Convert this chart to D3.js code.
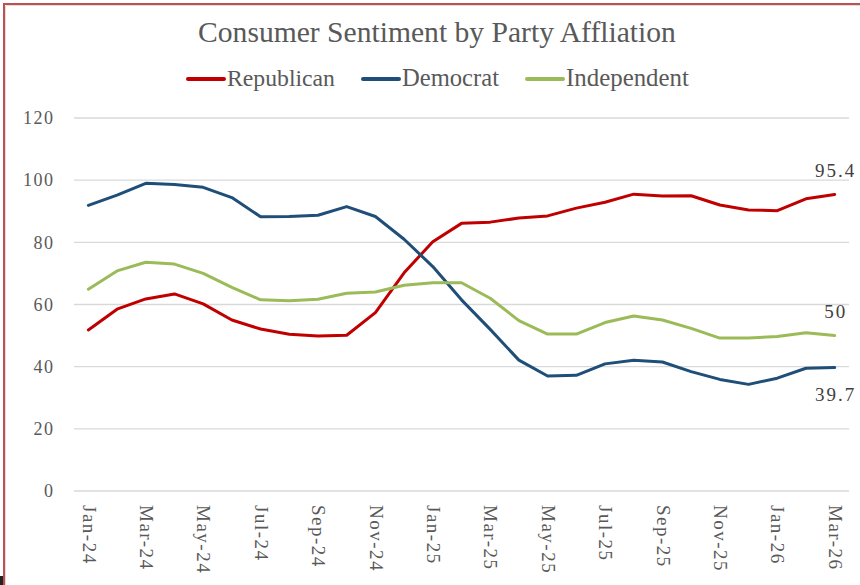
<!DOCTYPE html>
<html>
<head>
<meta charset="utf-8">
<script src="https://cdn.jsdelivr.net/npm/d3@7/dist/d3.min.js"></script>
<style>
  html, body { margin: 0; padding: 0; background: #fff; }
  svg { display: block; }
  text { font-family: "Liberation Serif", "DejaVu Serif", serif; }
</style>
</head>
<body>
<svg id="chart" width="860" height="585"></svg>
<script>
const months = ["Jan-24","Feb-24","Mar-24","Apr-24","May-24","Jun-24","Jul-24","Aug-24","Sep-24","Oct-24","Nov-24","Dec-24",
  "Jan-25","Feb-25","Mar-25","Apr-25","May-25","Jun-25","Jul-25","Aug-25","Sep-25","Oct-25","Nov-25","Dec-25",
  "Jan-26","Feb-26","Mar-26"];
const republican = [51.8,58.5,61.8,63.4,60.2,55.0,52.1,50.4,49.9,50.1,57.4,70.2,80.2,86.1,86.5,87.8,88.5,91.0,92.9,95.5,94.9,95.0,92.0,90.4,90.2,94.0,95.4];
const democrat   = [91.9,95.2,99.0,98.6,97.7,94.4,88.2,88.3,88.7,91.5,88.3,81.0,72.2,61.5,52.0,42.1,37.0,37.2,40.9,42.1,41.5,38.4,35.9,34.3,36.3,39.5,39.7];
const independent= [64.9,70.8,73.6,73.0,70.0,65.5,61.5,61.2,61.7,63.6,64.0,66.2,67.0,67.0,62.0,54.8,50.5,50.5,54.2,56.3,55.0,52.3,49.2,49.2,49.7,50.9,50.0];
const yTicks = [0,20,40,60,80,100,120];
const seriesNames = ["Republican","Democrat","Independent"];
const seriesColors = ["#C00000","#1F4E79","#9BBB59"];
const endLabels = ["95.4","39.7","50"];

const series = [republican, democrat, independent];
const svg = d3.select("#chart");

// frame (red border top & left, as in reference)
svg.append("rect").attr("x",0).attr("y",576).attr("width",3).attr("height",9).attr("fill","#222");
svg.append("line").attr("x1",4).attr("x2",4).attr("y1",3).attr("y2",585).attr("stroke","#C0504D").attr("stroke-width",2);
svg.append("line").attr("x1",5.5).attr("x2",5.5).attr("y1",6).attr("y2",585).attr("stroke","#ddd").attr("stroke-width",1);
svg.append("line").attr("x1",3).attr("x2",860).attr("y1",4).attr("y2",4).attr("stroke","#C0504D").attr("stroke-width",2);
svg.append("line").attr("x1",6).attr("x2",860).attr("y1",5.5).attr("y2",5.5).attr("stroke","#ddd").attr("stroke-width",1);

const x = d3.scalePoint().domain(months).range([74, 849]).padding(0.5);
const y = d3.scaleLinear().domain([0,120]).range([491, 118]);

function fit(sel, target) {
  const w = sel.node().getComputedTextLength();
  const fs = parseFloat(sel.attr("font-size"));
  sel.attr("font-size", fs * target / w);
}

// title
const title = svg.append("text").attr("x",437).attr("y",42).attr("text-anchor","middle")
  .attr("font-size",26).attr("fill","#595959").text("Consumer Sentiment by Party Affliation");
fit(title, 478);

// gridlines
svg.append("g").selectAll("line").data(yTicks).join("line")
  .attr("x1",74).attr("x2",849).attr("y1",d=>y(d)).attr("y2",d=>y(d))
  .attr("stroke","#D9D9D9").attr("stroke-width",1.3);

// y axis labels
const yAxis = svg.append("g").attr("transform","translate(74,0)")
  .call(d3.axisLeft(y).tickValues(yTicks).tickSize(0).tickPadding(19.5));
yAxis.select(".domain").remove();
yAxis.selectAll("text").attr("font-family","Liberation Serif, serif").attr("font-size",18)
  .attr("letter-spacing",1.5).attr("fill","#595959");

// x axis labels (every other month), rotated
const xAxis = svg.append("g").attr("transform","translate(0,491)")
  .call(d3.axisBottom(x).tickValues(months.filter((m,i)=>i%2===0)).tickSize(0).tickPadding(0));
xAxis.select(".domain").remove();
xAxis.selectAll("text")
  .attr("font-family","Liberation Serif, serif").attr("font-size",19).attr("letter-spacing",1.5)
  .attr("fill","#595959")
  .attr("transform","rotate(90)").attr("text-anchor","start").attr("dy","0.33em")
  .attr("x",14).attr("y",0);

// lines
const line = d3.line().x((d,i)=>x(months[i])).y(d=>y(d));
svg.append("g").selectAll("path").data(series).join("path")
  .attr("d", d=>line(d)).attr("fill","none")
  .attr("stroke",(d,i)=>seriesColors[i]).attr("stroke-width",3)
  .attr("stroke-linejoin","round").attr("stroke-linecap","round");

// end labels
const last = months.length - 1;
const offsets = [-24, 27, -24];
svg.append("g").selectAll("text").data(series).join("text")
  .attr("x", x(months[last]) + 1).attr("y",(d,i)=>y(d[last]) + offsets[i])
  .attr("text-anchor","middle").attr("dy","0.35em")
  .attr("font-size",19).attr("letter-spacing",2).attr("fill","#404040")
  .text((d,i)=>endLabels[i]);

// legend
const legendTargets = [108, 97, 123];
let lx = 188;
const lg = svg.append("g");
seriesNames.forEach((name,i)=>{
  lg.append("line").attr("x1",lx).attr("x2",lx+36).attr("y1",79).attr("y2",79)
    .attr("stroke",seriesColors[i]).attr("stroke-width",4).attr("stroke-linecap","round");
  const t = lg.append("text").attr("x",lx+39).attr("y",86).attr("font-size",22)
    .attr("fill","#595959").text(name);
  fit(t, legendTargets[i]);
  lx += 39 + legendTargets[i] + 28;
});
</script>
</body>
</html>
